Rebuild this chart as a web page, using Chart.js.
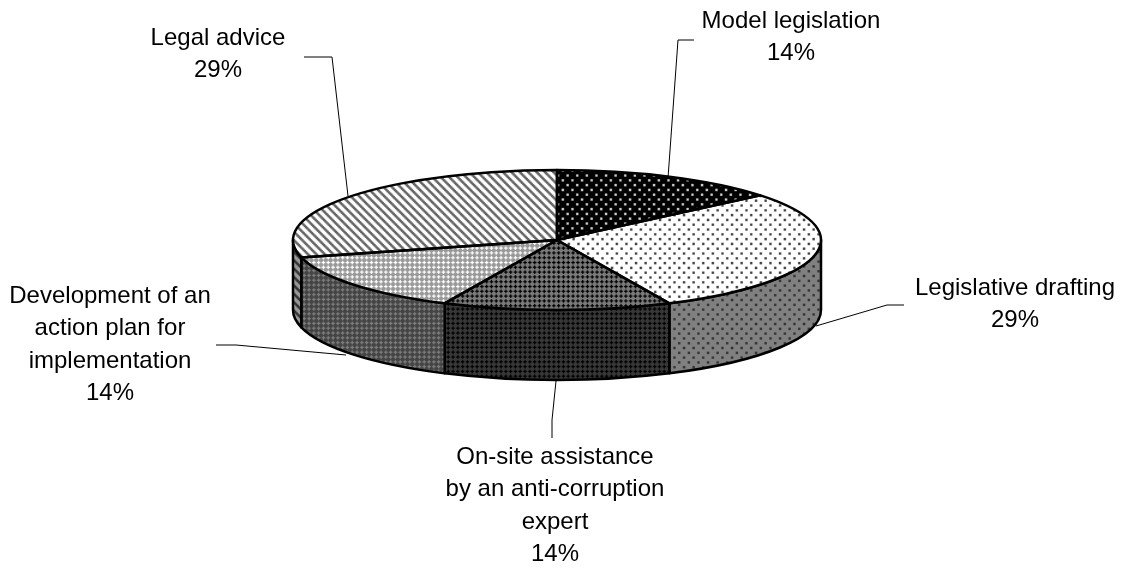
<!DOCTYPE html>
<html>
<head>
<meta charset="utf-8">
<script src="https://cdn.jsdelivr.net/npm/chart.js@4"></script>
<style>
    html, body { margin: 0; padding: 0; background: #fff; }
    canvas { display: block; }
</style>
</head>
<body>
<canvas id="pieChart" width="1130" height="568"></canvas>
<script>
// Chart data
const categories = ['Model legislation', 'Legislative drafting', 'On-site assistance by an anti-corruption expert', 'Development of an action plan for implementation', 'Legal advice'];
const shares = [14, 29, 14, 14, 29];
const labelLines = [
    ['Model legislation'],
    ['Legislative drafting'],
    ['On-site assistance', 'by an anti-corruption', 'expert'],
    ['Development of an', 'action plan for', 'implementation'],
    ['Legal advice']
];

// Layout of the flattened pie
const centerY = 240;
const radiusY = 70;
const depth = 70;
const labelAnchors = [[791, 21], [1015, 288], [555, 457], [110, 296], [218, 38]];
const leaders = [
    [[694, 40], [678, 40], [668, 178]],
    [[904, 305], [887, 305], [816, 326]],
    [[552, 438], [552, 420], [556, 381]],
    [[216, 345], [236, 345], [346, 355]],
    [[304, 57], [332, 57], [348, 196]]
];

// 1-bit tiles: '#' is the ink colour, '.' the paper colour
const dotTile = ['##......', '##......', '........', '........', '....##..', '....##..', '........', '........'];
const smallDotTile = ['........', '.##.....', '.##.....', '........', '........', '.....##.', '.....##.', '........'];
const stripeTile = ['##....#', '###....', '.###...', '..###..', '...###.', '....###', '#....##'];
const plusTile = ['.#..', '###.', '.#..', '....'];

function makePattern(tile, ink, paper, scaleY) {
    const size = tile.length;
    const tileCanvas = document.createElement('canvas');
    tileCanvas.width = size;
    tileCanvas.height = size;
    const tileCtx = tileCanvas.getContext('2d');
    tile.forEach((row, y) => {
        row.split('').forEach((cell, x) => {
            tileCtx.fillStyle = cell === '#' ? ink : paper;
            tileCtx.fillRect(x, y, 1, 1);
        });
    });
    const pattern = document.createElement('canvas').getContext('2d').createPattern(tileCanvas, 'repeat');
    // the source bitmap was enlarged about 1.2x, which is why it looks soft
    pattern.setTransform(new DOMMatrix().scale(1.2, 1.2 * scaleY));
    return pattern;
}

const flatten = radiusY / 264;
const topFills = [
    makePattern(dotTile, '#ccc', '#000', 1 / flatten),
    makePattern(smallDotTile, '#444', '#fff', 1 / flatten),
    makePattern(plusTile, '#000', '#7a7a7a', 1 / flatten),
    makePattern(plusTile, '#fff', '#999', 1 / flatten),
    makePattern(stripeTile, '#666', '#fff', 1 / flatten)
];
const wallFills = [
    makePattern(dotTile, '#888', '#000', 1),
    makePattern(smallDotTile, '#333', '#808080', 1),
    makePattern(plusTile, '#000', '#383838', 1),
    makePattern(plusTile, '#808080', '#444', 1),
    makePattern(stripeTile, '#333', '#999', 1)
];

function drawWalls(chart) {
    const ctx = chart.ctx;
    chart.getDatasetMeta(0).data.forEach((arc, i) => {
        const start = Math.max(arc.startAngle, 0);
        const end = Math.min(arc.endAngle, Math.PI);
        if (end <= start) return;
        ctx.beginPath();
        ctx.ellipse(arc.x, centerY, arc.outerRadius, radiusY, 0, start, end);
        ctx.ellipse(arc.x, centerY + depth, arc.outerRadius, radiusY, 0, end, start, true);
        ctx.closePath();
        ctx.fillStyle = wallFills[i];
        ctx.fill();
        ctx.lineWidth = 2.5;
        ctx.strokeStyle = '#000';
        ctx.lineJoin = 'round';
        ctx.stroke();
    });
}

function drawTopOutlines(chart) {
    const ctx = chart.ctx;
    chart.getDatasetMeta(0).data.forEach(arc => {
        ctx.beginPath();
        ctx.moveTo(arc.x, centerY);
        ctx.ellipse(arc.x, centerY, arc.outerRadius, radiusY, 0, arc.startAngle, arc.endAngle);
        ctx.closePath();
        ctx.lineWidth = 2.5;
        ctx.strokeStyle = '#000';
        ctx.lineJoin = 'round';
        ctx.stroke();
    });
}

function drawLabels(chart) {
    const ctx = chart.ctx;
    ctx.lineWidth = 1;
    ctx.strokeStyle = '#000';
    leaders.forEach(points => {
        ctx.beginPath();
        points.forEach((p, i) => i ? ctx.lineTo(p[0], p[1]) : ctx.moveTo(p[0], p[1]));
        ctx.stroke();
    });

    ctx.fillStyle = '#000';
    ctx.font = '24px "Liberation Sans", Arial, sans-serif';
    ctx.textAlign = 'center';
    ctx.textBaseline = 'middle';
    labelLines.forEach((lines, i) => {
        const rows = lines.concat(shares[i] + '%');
        rows.forEach((text, r) => {
            ctx.fillText(text, labelAnchors[i][0], labelAnchors[i][1] + r * 32.5);
        });
    });
}

// Squash the library's pie into an ellipse and add the side wall and labels
const pie3d = {
    id: 'pie3d',
    beforeDatasetsDraw(chart) {
        drawWalls(chart);
        const arc = chart.getDatasetMeta(0).data[0];
        chart.ctx.save();
        chart.ctx.translate(0, centerY);
        chart.ctx.scale(1, flatten);
        chart.ctx.translate(0, -arc.y);
    },
    afterDatasetsDraw(chart) {
        chart.ctx.restore();
        drawTopOutlines(chart);
        drawLabels(chart);
    }
};

new Chart(document.getElementById('pieChart'), {
    type: 'pie',
    data: {
        labels: categories,
        datasets: [{
            data: shares,
            backgroundColor: topFills,
            borderWidth: 0
        }]
    },
    options: {
        responsive: false,
        animation: false,
        layout: { padding: { left: 293, right: 309, top: 20, bottom: 20 } },
        plugins: {
            legend: { display: false },
            tooltip: { enabled: false }
        }
    },
    plugins: [pie3d]
});
</script>
</body>
</html>
